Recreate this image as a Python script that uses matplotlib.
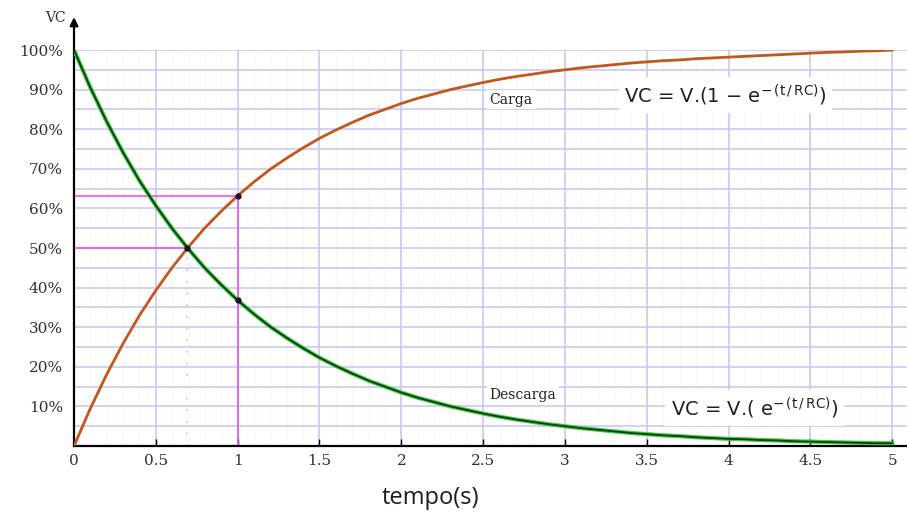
import numpy as np
import matplotlib
matplotlib.use("Agg")
import matplotlib.pyplot as plt

# Sample times (s) and read-off curve values (%)
tempo = [0.0, 0.1, 0.2, 0.3, 0.4, 0.5, 0.6, 0.7, 0.8, 0.9,
         1.0, 1.1, 1.2, 1.3, 1.4, 1.5, 1.6, 1.7, 1.8, 1.9,
         2.0, 2.1, 2.2, 2.3, 2.4, 2.5, 2.6, 2.7, 2.8, 2.9,
         3.0, 3.1, 3.2, 3.3, 3.4, 3.5, 3.6, 3.7, 3.8, 3.9,
         4.0, 4.1, 4.2, 4.3, 4.4, 4.5, 4.6, 4.7, 4.8, 4.9, 5.0]
carga = [0.0, 9.5, 18.1, 25.9, 33.0, 39.3, 45.1, 50.3, 55.1, 59.3,
         63.2, 66.7, 69.9, 72.7, 75.3, 77.7, 79.8, 81.7, 83.5, 85.0,
         86.5, 87.8, 88.9, 90.0, 90.9, 91.8, 92.6, 93.3, 93.9, 94.5,
         95.0, 95.5, 95.9, 96.3, 96.7, 97.0, 97.3, 97.5, 97.8, 98.0,
         98.2, 98.4, 98.6, 98.8, 99.0, 99.2, 99.4, 99.5, 99.7, 99.8, 100.0]
descarga = [100.0, 90.5, 81.9, 74.1, 67.0, 60.7, 54.9, 49.7, 44.9, 40.7,
            36.8, 33.3, 30.1, 27.3, 24.7, 22.3, 20.2, 18.3, 16.5, 15.0,
            13.5, 12.2, 11.1, 10.0, 9.1, 8.2, 7.4, 6.7, 6.1, 5.5,
            5.0, 4.5, 4.1, 3.7, 3.3, 3.0, 2.7, 2.5, 2.2, 2.0,
            1.8, 1.7, 1.5, 1.4, 1.2, 1.1, 1.0, 0.9, 0.8, 0.7, 0.7]

# marked points
t_rc = 1.0
v_rc_carga = 63.2
v_rc_descarga = 36.8
t_meio = 0.69
v_meio = 50.0

xticks = [0, 0.5, 1, 1.5, 2, 2.5, 3, 3.5, 4, 4.5, 5]
xlabels = ['0', '0.5', '1', '1.5', '2', '2.5', '3', '3.5', '4', '4.5', '5']
yticks = [10, 20, 30, 40, 50, 60, 70, 80, 90, 100]
ylabels = ['10%', '20%', '30%', '40%', '50%', '60%', '70%', '80%', '90%', '100%']

fig = plt.figure(figsize=(9.07, 5.13), dpi=100)
ax = fig.add_axes([0.0816, 0.1306, 0.9184, 0.7719])
ax.set_xlim(0, 5.09)
ax.set_ylim(0, 100)

# grid
for xv in np.arange(0.1, 5.0, 0.1):
    ax.axvline(xv, color='#f6f6f6', lw=0.8, zorder=0)
for xv in xticks[1:]:
    ax.axvline(xv, color='#c8c8f8', lw=1.2, zorder=1)
for yv in range(5, 101, 5):
    ax.axhline(yv, color='#c8c8f8', lw=1.2, zorder=1)

# magenta guides
pink = '#f050f0'
ax.plot([0, t_rc], [v_rc_carga, v_rc_carga], color=pink, lw=1.2, zorder=2)
ax.plot([t_rc, t_rc], [0, v_rc_carga], color=pink, lw=1.2, zorder=2)
ax.plot([0, t_meio], [v_meio, v_meio], color=pink, lw=1.2, zorder=2)
ax.plot([t_meio, t_meio], [0, v_meio], color='#f8a0f8', lw=1.2, ls=(0, (1, 6)), zorder=2)

# curves
ax.plot(tempo, carga, color='#c4561c', lw=2.0, zorder=4)
ax.plot(tempo, descarga, color='#3ccc3c', lw=3.0, zorder=4)
ax.plot(tempo, descarga, color='#0f3a12', lw=1.3, zorder=5)

ax.plot([t_rc, t_rc, t_meio], [v_rc_carga, v_rc_descarga, v_meio], 'o',
        color='#1a1030', ms=3.5, zorder=6)

# spines / ticks
for s in ['top', 'right']:
    ax.spines[s].set_visible(False)
ax.spines['left'].set_linewidth(1.6)
ax.spines['bottom'].set_linewidth(1.6)
ax.annotate('', xy=(0, 109), xytext=(0, 99.5), xycoords='data',
            arrowprops=dict(arrowstyle='-|>', color='black', lw=1.6,
                            mutation_scale=12), annotation_clip=False)

serif = {'family': 'DejaVu Serif', 'size': 11, 'color': '#303030'}
ax.set_xticks(xticks)
ax.set_xticklabels(xlabels, fontdict=serif)
ax.set_yticks(yticks)
ax.set_yticklabels(ylabels, fontdict=serif)
ax.tick_params(axis='both', direction='in', length=5, width=1, pad=6)
ax.tick_params(axis='y', length=0, pad=8)

fig.text(0.050, 0.965, 'VC', fontdict={'family': 'DejaVu Serif', 'size': 10, 'color': '#303030'},
         ha='left', va='center')
fig.text(0.474, 0.030, 'tempo(s)', family='Open Sans', size=17, color='#1a1a2e',
         ha='center', va='center')

# labels and formulas
wbox = dict(facecolor='white', edgecolor='none', pad=2)
ax.text(2.54, 87.5, 'Carga', family='DejaVu Serif', size=10, color='#202020',
        ha='left', va='center', bbox=wbox, zorder=7)
ax.text(2.54, 12.8, 'Descarga', family='DejaVu Serif', size=10, color='#202020',
        ha='left', va='center', bbox=wbox, zorder=7)
ax.text(3.98, 88.6, r'VC = V.(1 $-$ e$^{-\,(\mathrm{t\,/\,RC})}$)', family='DejaVu Sans',
        size=14, color='#202020', ha='center', va='center',
        bbox=dict(facecolor='white', edgecolor='none', pad=4), zorder=7)
ax.text(4.16, 9.6, r'VC = V.( e$^{-\,(\mathrm{t\,/\,RC})}$)', family='DejaVu Sans',
        size=14, color='#202020', ha='center', va='center',
        bbox=dict(facecolor='white', edgecolor='none', pad=4), zorder=7)

fig.savefig('out.png', dpi=100)
